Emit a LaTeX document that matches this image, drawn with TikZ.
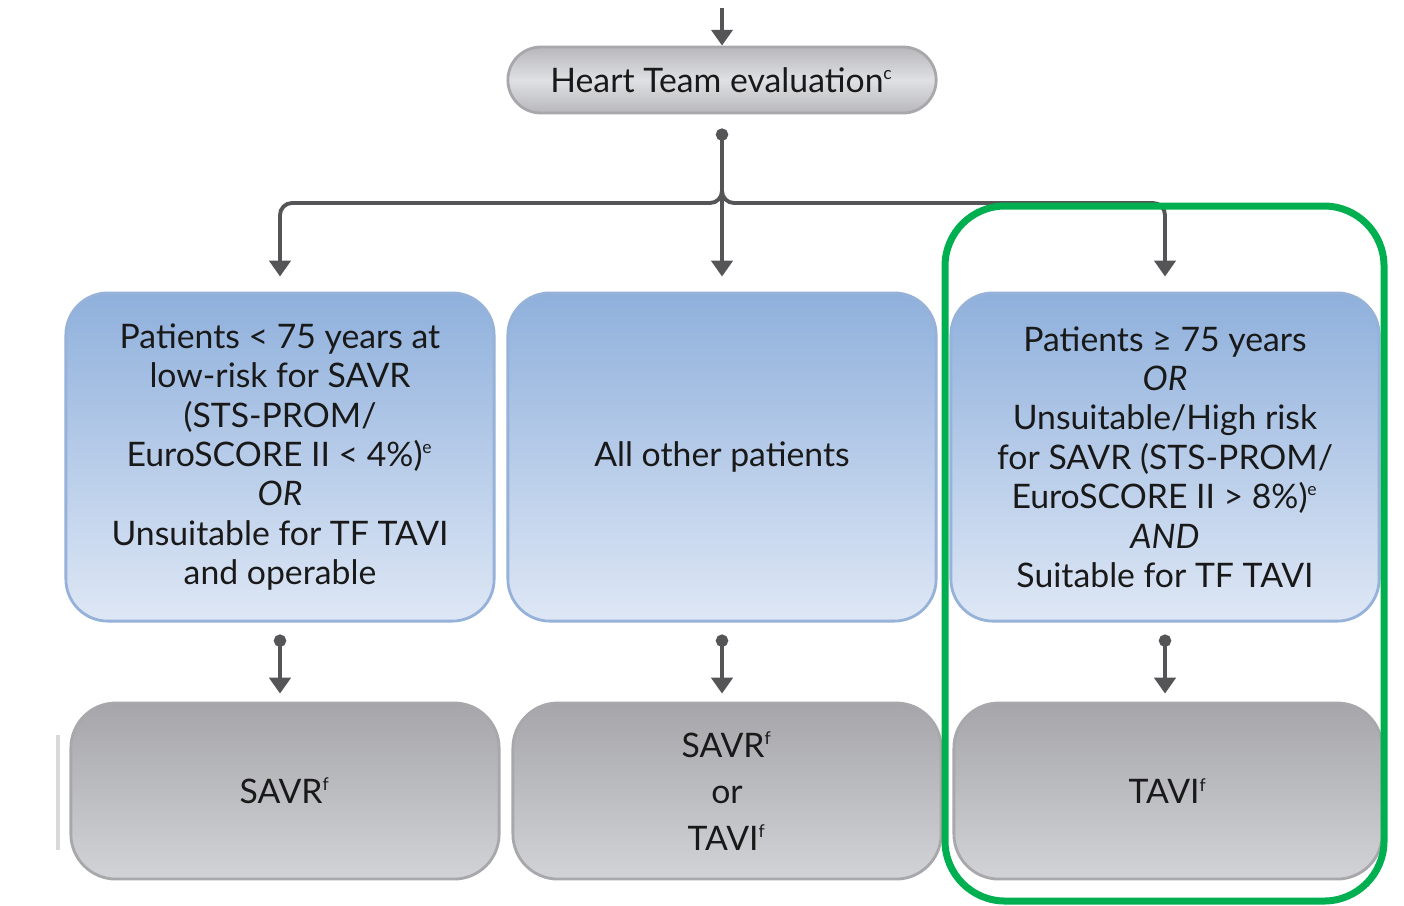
\documentclass[tikz,border=0pt]{standalone}
\usepackage{fontspec}
\setmainfont{Lato}
\usetikzlibrary{arrows.meta}

\definecolor{bluetop}{RGB}{143,176,220}
\definecolor{bluebot}{RGB}{222,231,245}
\definecolor{blueedge}{RGB}{150,178,216}
\definecolor{greytop}{RGB}{166,166,170}
\definecolor{greybot}{RGB}{210,211,215}
\definecolor{greyedge}{RGB}{168,168,172}
\definecolor{linegrey}{RGB}{85,85,88}
\definecolor{markgreen}{RGB}{0,176,80}

\newcommand{\fn}[1]{\textsuperscript{\tiny #1}}

\tikzset{
  txt/.style={font=\fontsize{9.6}{11.2}\selectfont, text=black!90, align=center},
  bluebox/.style={txt, draw=blueedge, line width=0.8pt, rounded corners=0.42cm,
    top color=bluetop, bottom color=bluebot, minimum width=4.28cm, minimum height=3.28cm},
  greybox/.style={txt, draw=greyedge, line width=0.8pt, rounded corners=0.45cm,
    top color=greytop, bottom color=greybot, minimum width=4.28cm, minimum height=1.76cm},
  pill/.style={txt, draw=greyedge, line width=0.8pt, rounded corners=0.33cm,
    top color=greytop!80, bottom color=greytop!80, middle color=greybot!70,
    minimum width=4.28cm, minimum height=0.66cm},
  arr/.style={draw=linegrey, line width=1.1pt, -{Triangle[length=4.5pt,width=6pt]}},
  dotarr/.style={arr, {Circle[length=3.5pt]}-{Triangle[length=4.5pt,width=6pt]}},
}

\begin{document}
\begin{tikzpicture}[x=0.01cm, y=-0.01cm]
\useasboundingbox[fill=white] (0,0) rectangle (1404,905);

% top row
\node[pill] (heart) at (722,80) {Heart Team evaluation\fn{c}};
\coordinate (intop) at (722,8);

% patient groups
\node[bluebox] (left) at (280,457) {Patients < 75 years at\\low-risk for SAVR\\(STS-PROM/\\EuroSCORE II < 4\%)\fn{e}\\\textit{OR}\\Unsuitable for TF TAVI\\and operable};
\node[bluebox] (mid) at (722,457) {All other patients};
\node[bluebox] (right) at (1165,457) {Patients ≥ 75 years\\\textit{OR}\\Unsuitable/High risk\\for SAVR (STS-PROM/\\EuroSCORE II > 8\%)\fn{e}\\\textit{AND}\\Suitable for TF TAVI};

% treatment
\node[greybox] (savr) at (285,791) {SAVR\fn{f}};
\node[greybox] (both) at (727,791) {SAVR\fn{f}\\[2pt]or\\[2pt]TAVI\fn{f}};
\node[greybox] (tavi) at (1168,791) {TAVI\fn{f}};

% connectors
\draw[arr] (intop) -- (heart.north);
\coordinate (fork) at (722,185);
\coordinate (lbend) at (280,203);
\coordinate (rbend) at (1165,203);
\draw[dotarr] ([yshift=-0.14cm]heart.south) -- ([yshift=0.15cm]mid.north);
\draw[arr, rounded corners=0.12cm] (fork) |- (lbend) -- ([yshift=0.15cm]left.north);
\draw[arr, rounded corners=0.12cm] (fork) |- (rbend) -- ([yshift=0.15cm]right.north);

\draw[dotarr] ([yshift=-0.12cm]left.south) -- ([yshift=0.08cm]savr.north -| left.south);
\draw[dotarr] ([yshift=-0.12cm]mid.south) -- ([yshift=0.08cm]both.north -| mid.south);
\draw[dotarr] ([yshift=-0.12cm]right.south) -- ([yshift=0.08cm]tavi.north -| right.south);

% faint edge left of the grey row
\draw[black!15, line width=1pt] (58,735) -- (58,850);

% highlight
\draw[markgreen, line width=0.7mm, rounded corners=0.6cm] (945,206) rectangle (1384,901);
\end{tikzpicture}
\end{document}
